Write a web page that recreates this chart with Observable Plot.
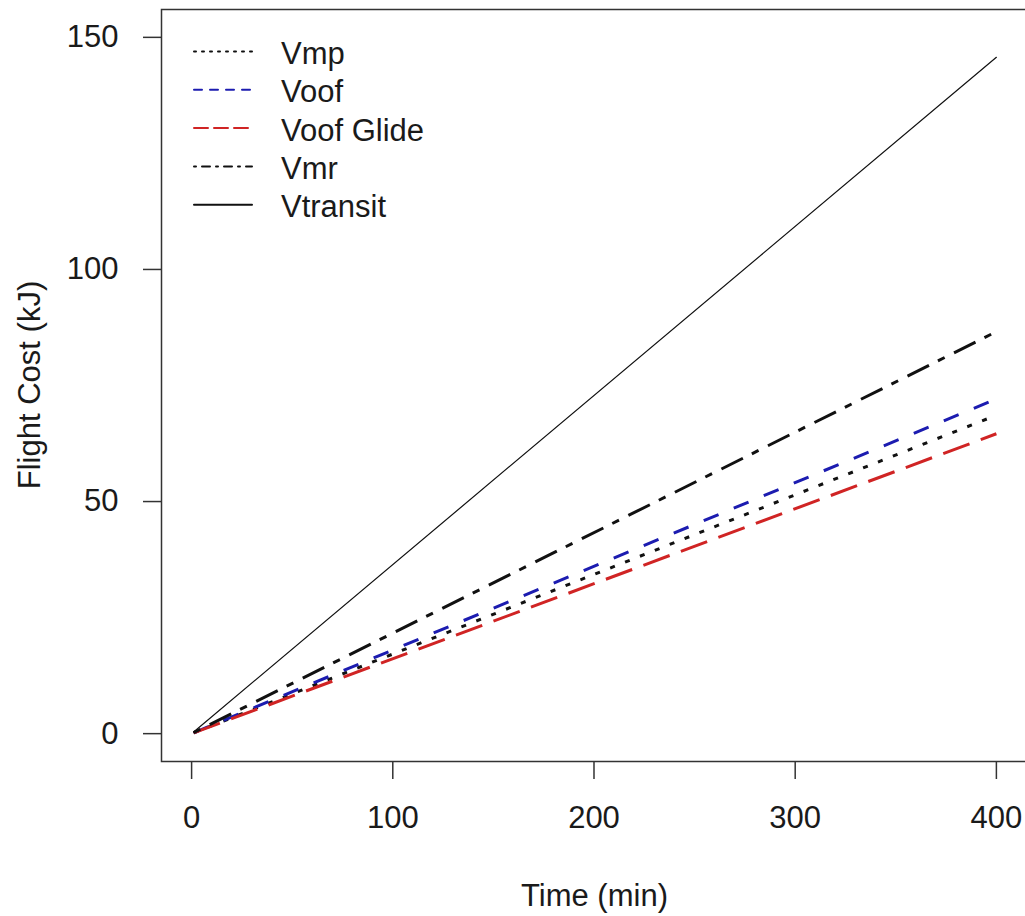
<!DOCTYPE html>
<html>
<head>
<meta charset="utf-8">
<script src="https://cdn.jsdelivr.net/npm/d3@7"></script>
<script src="https://cdn.jsdelivr.net/npm/@observablehq/plot@0.6"></script>
<style>
  html, body { margin: 0; padding: 0; background: #fff; }
  svg { display: block; }
</style>
</head>
<body>
<div id="chart"></div>
<script>
// ---- data ----
const seriesNames = ["Vmp", "Voof", "Voof Glide", "Vmr", "Vtransit"];
const time = [1, 400];
const vmp = [0.17, 68.6];
const voof = [0.18, 72.1];
const voofGlide = [0.16, 64.6];
const vmr = [0.22, 86.6];
const vtransit = [0.36, 145.7];
const seriesValues = [vmp, voof, voofGlide, vmr, vtransit];
const xTicks = [0, 100, 200, 300, 400];
const yTicks = [0, 50, 100, 150];
const xLabel = "Time (min)";
const yLabel = "Flight Cost (kJ)";

// ---- styles ----
const styles = {
  "Vmp":        {stroke: "#111", width: 3,   dash: "5 11",            legendDash: "2 6"},
  "Voof":       {stroke: "#1c1cb0", width: 3, dash: "16 16.5",        legendDash: "8 8"},
  "Voof Glide": {stroke: "#d02424", width: 3, dash: "28 12",          legendDash: "14 6"},
  "Vmr":        {stroke: "#111", width: 3,   dash: "7.5 10.5 24 10",  legendDash: "2 6 8 6"},
  "Vtransit":   {stroke: "#111", width: 1.2, dash: null,              legendDash: null}
};

const rows = [];
seriesNames.forEach((name, i) => {
  time.forEach((t, j) => rows.push({series: name, time: t, cost: seriesValues[i][j]}));
});

const font = "'Liberation Sans', Arial, Helvetica, sans-serif";
const textColor = "#1a1a1a";

const lineMarks = seriesNames.map(name => {
  const s = styles[name];
  return Plot.line(rows.filter(d => d.series === name), {
    x: "time", y: "cost",
    stroke: s.stroke, strokeWidth: s.width,
    strokeDasharray: s.dash || undefined,
    strokeLinecap: s.dash ? "butt" : "round"
  });
});

const chart = Plot.plot({
  width: 1025,
  height: 916,
  marginLeft: 161,
  marginRight: -3,
  marginTop: 9,
  marginBottom: 155,
  x: {domain: [-14.96, 415.96], range: [161, 1028]},
  y: {domain: [-6, 156], range: [761, 9]},
  style: {fontFamily: font, fontSize: "31px", color: textColor, background: "#fff", overflow: "hidden"},
  marks: [
    Plot.axisX({ticks: xTicks, tickSize: 18, tickPadding: 26, tickFormat: d => String(d),
                label: null, fontSize: 31, stroke: "#333", strokeWidth: 1.5, fill: textColor}),
    Plot.axisY({ticks: yTicks, tickSize: 18, tickPadding: 25, tickFormat: d => String(d),
                label: null, fontSize: 31, stroke: "#333", strokeWidth: 1.5, fill: textColor}),
    ...lineMarks,
    Plot.frame({stroke: "#333", strokeWidth: 1.5})
  ]
});

document.getElementById("chart").appendChild(chart);

// ---- axis titles and legend ----
const svg = d3.select(chart);
svg.append("text")
  .attr("x", 594.5).attr("y", 906)
  .attr("text-anchor", "middle")
  .attr("font-family", font).attr("font-size", 31).attr("fill", textColor)
  .text(xLabel);
svg.append("text")
  .attr("transform", "translate(40,385) rotate(-90)")
  .attr("text-anchor", "middle")
  .attr("font-family", font).attr("font-size", 31).attr("fill", textColor)
  .text(yLabel);

const legend = svg.append("g").attr("text-anchor", "start");
seriesNames.forEach((name, i) => {
  const s = styles[name];
  const y = 51.5 + i * 38.3;
  legend.append("line")
    .attr("x1", 194).attr("x2", 252).attr("y1", y).attr("y2", y)
    .attr("stroke", s.stroke).attr("stroke-width", 2)
    .attr("stroke-dasharray", s.legendDash)
    .attr("stroke-linecap", "round");
  legend.append("text")
    .attr("x", 281).attr("y", y + 12.5)
    .attr("text-anchor", "start")
    .attr("font-family", font).attr("font-size", 31).attr("fill", textColor)
    .text(name);
});
</script>
</body>
</html>
